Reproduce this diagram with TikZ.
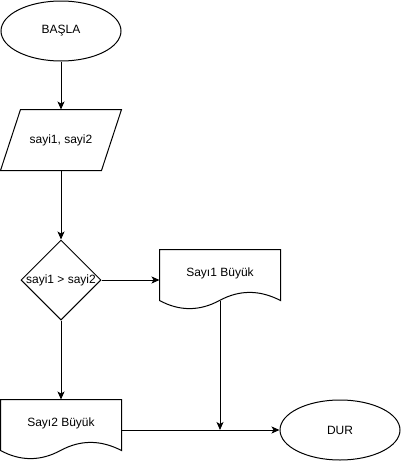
\documentclass[tikz,border=0pt]{standalone}
\usepackage{fontspec}
\setmainfont{Liberation Sans}
\usetikzlibrary{shapes.geometric,arrows.meta,calc}
\tikzset{
  txt/.style={font=\fontsize{12pt}{14pt}\selectfont},
  every label/.style={txt, inner sep=0pt},
  base/.style={inner sep=0pt, txt, line width=1pt},
  term/.style={base, draw, ellipse, minimum width=120pt, minimum height=60pt},
  box/.style={base, rectangle, minimum width=120pt, minimum height=60pt},
  dec/.style={base, draw, diamond, minimum width=80pt, minimum height=80pt},
  conn/.style={line width=1pt, -{Stealth[length=8pt,width=7pt,inset=2pt]}},
  shapeline/.style={line width=1pt, line join=miter}
}
\begin{document}
\begin{tikzpicture}[x=1pt,y=-1pt]
\useasboundingbox (0,0) rectangle (401,461);
\node[term] (start) at (61,31) {BAŞLA};
\node[box] (in) at (61,140) {sayi1, sayi2};
\draw[shapeline] ($(in.north west)+(20,0)$) -- (in.north east) -- ($(in.south east)+(-20,0)$) -- (in.south west) -- cycle;
\node[dec, label={center:sayi1 > sayi2}] (d) at (61,280) {};
\node[box, label={[yshift=7pt]center:Sayı1 Büyük}] (s1) at (220,280) {};
\node[box, label={[yshift=7pt]center:Sayı2 Büyük}] (s2) at (61,430) {};
\foreach \n in {s1,s2}{
  \draw[shapeline] (\n.north west) -- (\n.north east) -- ($(\n.north east)+(0,51)$)
    .. controls ($(\n.north west)+(100,40.2)$) and ($(\n.north west)+(80,40.2)$) .. ($(\n.north west)+(60,51)$)
    .. controls ($(\n.north west)+(40,61.8)$) and ($(\n.north west)+(20,61.8)$) .. ($(\n.north west)+(0,51)$)
    -- cycle;
}
\node[term] (end) at (340,430) {DUR};
\coordinate (s1b) at ($(s1.north)+(0,51)$);
\coordinate (j) at (s1.north |- s2.east);
\draw[conn] (start) -- (in);
\draw[conn] (in) -- (d);
\draw[conn] (d.east) -- (s1.west);
\draw[conn] (d.south) -- (s2.north);
\draw[conn] (s2.east) -- (end.west);
\draw[conn] (s1b) -- (j);
\end{tikzpicture}
\end{document}
